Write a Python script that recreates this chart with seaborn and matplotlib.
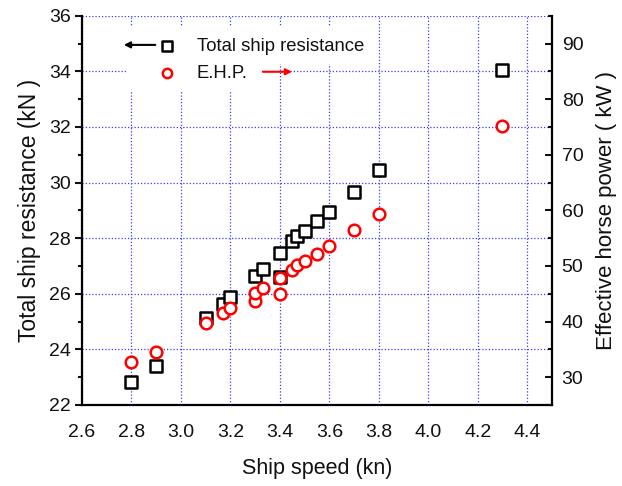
import matplotlib
matplotlib.use("Agg")
import matplotlib.pyplot as plt
from matplotlib.patches import Rectangle
from matplotlib.ticker import MultipleLocator, FormatStrFormatter
import seaborn as sns
import pandas as pd

# Towing measurements: total resistance (left axis) and effective horse power (right axis)
speed_res = [2.8, 2.9, 3.1, 3.17, 3.2, 3.3, 3.33, 3.4, 3.4, 3.45, 3.47, 3.5, 3.55, 3.6, 3.7, 3.8, 4.3]
resistance = [22.81, 23.40, 25.12, 25.64, 25.88, 26.64, 26.90, 26.62, 27.48, 27.88, 28.09, 28.25,
              28.60, 28.94, 29.67, 30.44, 34.06]

speed_ehp = [2.8, 2.9, 3.1, 3.17, 3.2, 3.3, 3.3, 3.33, 3.4, 3.4, 3.45, 3.47, 3.5, 3.55, 3.6, 3.7, 3.8, 4.3]
ehp = [32.8, 34.6, 39.7, 41.5, 42.4, 43.7, 45.1, 46.1, 45.0, 47.9, 49.3, 50.1, 50.9, 52.1, 53.5,
       56.4, 59.4, 75.2]

x_ticks = [2.6, 2.8, 3.0, 3.2, 3.4, 3.6, 3.8, 4.0, 4.2, 4.4]
left_ticks = [22, 24, 26, 28, 30, 32, 34, 36]
right_ticks = [30, 40, 50, 60, 70, 80, 90]

label_res = "Total ship resistance"
label_ehp = "E.H.P."

sns.set_theme(style="white")
plt.rcParams["font.family"] = ["Liberation Sans", "DejaVu Sans"]
plt.rcParams["text.color"] = "#111111"
plt.rcParams["axes.labelcolor"] = "#111111"
plt.rcParams["xtick.color"] = "#111111"
plt.rcParams["ytick.color"] = "#111111"

df_res = pd.DataFrame({"speed": speed_res, "resistance": resistance})
df_ehp = pd.DataFrame({"speed": speed_ehp, "ehp": ehp})

fig = plt.figure(figsize=(6.22, 4.86), dpi=100)
ax = fig.add_axes([0.1318, 0.1667, 0.7556, 0.8010])
ax2 = ax.twinx()

grid_color = "#3a3aff"
ax.set_axisbelow(True)
ax.grid(True, which="major", color=grid_color, linestyle=(0, (1, 1.6)), linewidth=0.9)

sns.scatterplot(data=df_res, x="speed", y="resistance", ax=ax, marker="s", s=72,
                facecolor="white", edgecolor="black", linewidth=1.8, legend=False,
                label=label_res, zorder=3)
sns.scatterplot(data=df_ehp, x="speed", y="ehp", ax=ax2, marker="o", s=70,
                facecolor="white", edgecolor="#ff0000", linewidth=1.8, legend=False,
                label=label_ehp, zorder=3)

ax.set_xlim(2.6, 4.5)
ax.set_ylim(22, 36)
ax2.set_ylim(25, 95)

ax.set_xticks(x_ticks)
ax.xaxis.set_major_formatter(FormatStrFormatter("%.1f"))
ax.xaxis.set_minor_locator(MultipleLocator(0.1))
ax.set_yticks(left_ticks)
ax.yaxis.set_minor_locator(MultipleLocator(1))
ax2.set_yticks(right_ticks)
ax2.yaxis.set_minor_locator(MultipleLocator(5))

ax.set_xlabel("Ship speed (kn)", fontsize=15.5, labelpad=12)
ax.set_ylabel("Total ship resistance (kN )", fontsize=16.5, labelpad=6)
ax2.set_ylabel("Effective horse power ( kW )", fontsize=16, labelpad=9)

for a in (ax, ax2):
    a.spines["top"].set_visible(False)
ax.spines["right"].set_visible(False)
ax2.spines["left"].set_visible(False)
ax2.spines["bottom"].set_visible(False)
for a in (ax, ax2):
    for sp in a.spines.values():
        sp.set_linewidth(1.6)
        sp.set_color("black")

ax.tick_params(axis="both", which="major", direction="out", length=5, width=1.5,
               labelsize=14)
ax.tick_params(axis="x", which="major", pad=9)
ax.tick_params(axis="y", which="major", pad=3)
ax.tick_params(axis="both", which="minor", direction="out", length=3, width=1.5)
ax.tick_params(axis="y", which="both", right=False)
ax.tick_params(axis="x", which="both", top=False)
ax2.tick_params(axis="y", which="major", direction="in", length=5, width=1.5,
                labelsize=14, pad=7)
ax2.tick_params(axis="y", which="minor", direction="in", length=3, width=1.5)

# white boxes behind the key text, hiding the grid there
ax.add_patch(Rectangle((0.081, 0.877), 0.545, 0.095, transform=ax.transAxes,
                       facecolor="white", edgecolor="none", zorder=1))
ax.add_patch(Rectangle((0.098, 0.805), 0.285, 0.075, transform=ax.transAxes,
                       facecolor="white", edgecolor="none", zorder=1))

handles = [ax.collections[0], ax2.collections[0]]
ax2.legend(handles, [label_res, label_ehp], loc="upper left", bbox_to_anchor=(0.162, 0.942),
           frameon=False, fontsize=13.3, handlelength=1.0, handletextpad=1.1,
           labelspacing=0.5, borderpad=0, borderaxespad=0, markerscale=0.8)

# arrows telling which axis each series belongs to
ax2.annotate("", xy=(0.089, 0.925), xytext=(0.156, 0.925), xycoords="axes fraction",
             textcoords="axes fraction",
             arrowprops=dict(arrowstyle="-|>", color="black", lw=1.5, mutation_scale=9,
                             shrinkA=0, shrinkB=0))
ax2.annotate("", xy=(0.447, 0.856), xytext=(0.385, 0.856), xycoords="axes fraction",
             textcoords="axes fraction",
             arrowprops=dict(arrowstyle="-|>", color="#ff0000", lw=1.5, mutation_scale=9,
                             shrinkA=0, shrinkB=0))

fig.savefig("out.png", dpi=100)
